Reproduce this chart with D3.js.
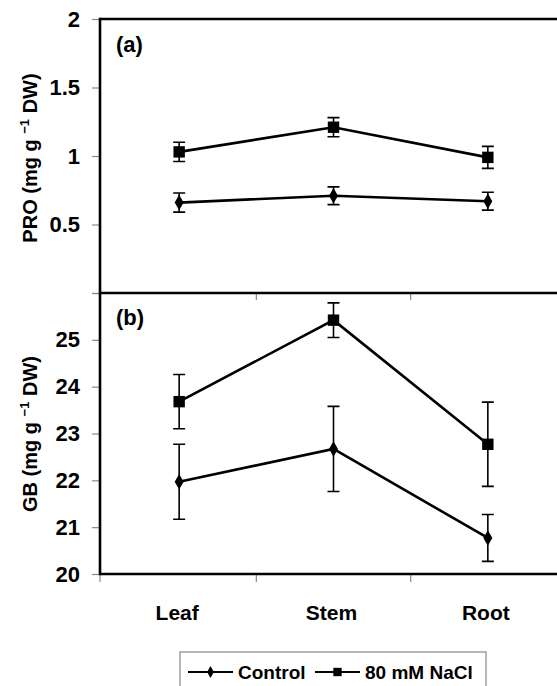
<!DOCTYPE html>
<html lang="en">
<head>
  <meta charset="utf-8">
  <title>PRO and GB</title>
  <script src="https://d3js.org/d3.v7.min.js"></script>
  <style>
    body { margin: 0; background: #fff; }
    text { font-family: "Liberation Sans", Arial, sans-serif; font-weight: bold; fill: #000; }
  </style>
</head>
<body>
<svg id="chart" width="557" height="686"></svg>
<script>
// data
var organs = ["Leaf", "Stem", "Root"];
var series = ["Control", "80 mM NaCl"];

var proControl = [0.66, 0.71, 0.67];
var proControlErr = [0.07, 0.065, 0.065];
var proNaCl = [1.03, 1.21, 0.99];
var proNaClErr = [0.07, 0.07, 0.08];

var gbControl = [21.97, 22.67, 20.77];
var gbControlErr = [0.8, 0.91, 0.5];
var gbNaCl = [23.68, 25.42, 22.77];
var gbNaClErr = [0.58, 0.37, 0.9];

var proTicks = [0, 0.5, 1, 1.5, 2];
var gbTicks = [20, 21, 22, 23, 24, 25, 26];

var svg = d3.select("#chart");

var x = d3.scaleBand().domain(organs).range([102, 565]);
function cx(d) { return x(d) + x.bandwidth() / 2; }

var yA = d3.scaleLinear().domain([0, 2]).range([293, 19]);
var yB = d3.scaleLinear().domain([20, 26]).range([574, 293]);

function drawAxes(y, ticks, skip) {
  var ax = svg.append("g")
    .attr("transform", "translate(100,0)")
    .call(d3.axisLeft(y).tickValues(ticks).tickSize(8).tickPadding(12)
      .tickFormat(function(d) { return d === skip ? "" : d; }));
  ax.select(".domain").remove();
  ax.attr("font-size", null).attr("font-family", null);
  ax.selectAll(".tick line").attr("stroke", "#888").attr("stroke-width", 1.2);
  ax.selectAll(".tick text").style("font-size", "22px")
    .style("font-family", "'Liberation Sans', Arial, sans-serif")
    .style("font-weight", "bold").attr("fill", "#000");
}
drawAxes(yA, proTicks, 0);
drawAxes(yB, gbTicks, 26);

// category ticks
var bounds = [x("Stem"), x("Root")];
svg.selectAll(".xtA").data(bounds).enter().append("line")
  .attr("x1", function(d) { return d; }).attr("x2", function(d) { return d; })
  .attr("y1", 293).attr("y2", 300).attr("stroke", "#888").attr("stroke-width", 1.2);
svg.selectAll(".xtB").data([100].concat(bounds)).enter().append("line")
  .attr("x1", function(d) { return d; }).attr("x2", function(d) { return d; })
  .attr("y1", 574).attr("y2", 582).attr("stroke", "#888").attr("stroke-width", 1.2);

// frame lines
var frame = svg.append("g").attr("stroke", "#000").attr("stroke-width", 2.6);
frame.append("line").attr("x1", 100).attr("x2", 557).attr("y1", yA(2)).attr("y2", yA(2));
frame.append("line").attr("x1", 100).attr("x2", 557).attr("y1", yA(0)).attr("y2", yA(0));
frame.append("line").attr("x1", 100).attr("x2", 557).attr("y1", yB(20)).attr("y2", yB(20));
frame.append("line").attr("x1", 100).attr("x2", 100).attr("y1", yA(2) - 1.3).attr("y2", yB(20) + 1.3);

var diamond = d3.symbol().type(d3.symbolDiamond).size(70);
var square = d3.symbol().type(d3.symbolSquare).size(130);

function drawSeries(y, vals, errs, sym) {
  var g = svg.append("g");
  var pts = organs.map(function(o, i) { return { o: o, v: vals[i], e: errs[i] }; });
  g.selectAll(".eb").data(pts).enter().append("path")
    .attr("d", function(d) {
      var px = cx(d.o), t = y(d.v + d.e), b = y(d.v - d.e);
      return "M" + (px - 6) + "," + t + "H" + (px + 6) + "M" + px + "," + t + "V" + b +
        "M" + (px - 6) + "," + b + "H" + (px + 6);
    })
    .attr("stroke", "#000").attr("stroke-width", 1.6).attr("fill", "none");
  g.append("path").datum(pts)
    .attr("d", d3.line().x(function(d) { return cx(d.o); }).y(function(d) { return y(d.v); }))
    .attr("stroke", "#000").attr("stroke-width", 2.6).attr("fill", "none");
  g.selectAll(".mk").data(pts).enter().append("path")
    .attr("d", sym)
    .attr("transform", function(d) { return "translate(" + cx(d.o) + "," + y(d.v) + ")"; })
    .attr("fill", "#000");
}
drawSeries(yA, proControl, proControlErr, diamond);
drawSeries(yA, proNaCl, proNaClErr, square);
drawSeries(yB, gbControl, gbControlErr, diamond);
drawSeries(yB, gbNaCl, gbNaClErr, square);

// panel letters
svg.append("text").attr("x", 116).attr("y", 52).style("font-size", "22px").text("(a)");
svg.append("text").attr("x", 116).attr("y", 325).style("font-size", "22px").text("(b)");

// y titles
function yTitle(name, cy) {
  var t = svg.append("text")
    .attr("transform", "translate(37," + cy + ") rotate(-90)")
    .attr("text-anchor", "middle").style("font-size", "20px");
  t.append("tspan").text(name + " (mg g  ");
  t.append("tspan").attr("dy", -8).style("font-size", "13px").text("\u22121");
  t.append("tspan").attr("dy", 8).text("  DW)");
}
yTitle("PRO", 158);
yTitle("GB", 434);

// category labels
svg.selectAll(".xl").data(organs).enter().append("text")
  .attr("x", function(d) { return cx(d) - 2; }).attr("y", 620)
  .attr("text-anchor", "middle").style("font-size", "21px")
  .text(function(d) { return d; });

// legend
var lg = svg.append("g");
lg.append("rect").attr("x", 180).attr("y", 652).attr("width", 306).attr("height", 50)
  .attr("fill", "#fff").attr("stroke", "#888").attr("stroke-width", 1.2);
var legItems = [
  { name: series[0], x0: 188, sym: d3.symbol().type(d3.symbolDiamond).size(40) },
  { name: series[1], x0: 315, sym: d3.symbol().type(d3.symbolSquare).size(70) }
];
legItems.forEach(function(it) {
  lg.append("line").attr("x1", it.x0).attr("x2", it.x0 + 45).attr("y1", 672).attr("y2", 672)
    .attr("stroke", "#000").attr("stroke-width", 2.2);
  lg.append("path").attr("d", it.sym).attr("transform", "translate(" + (it.x0 + 22.5) + ",672)");
  lg.append("text").attr("x", it.x0 + 50).attr("y", 679).style("font-size", "19px").text(it.name);
});
</script>
</body>
</html>
